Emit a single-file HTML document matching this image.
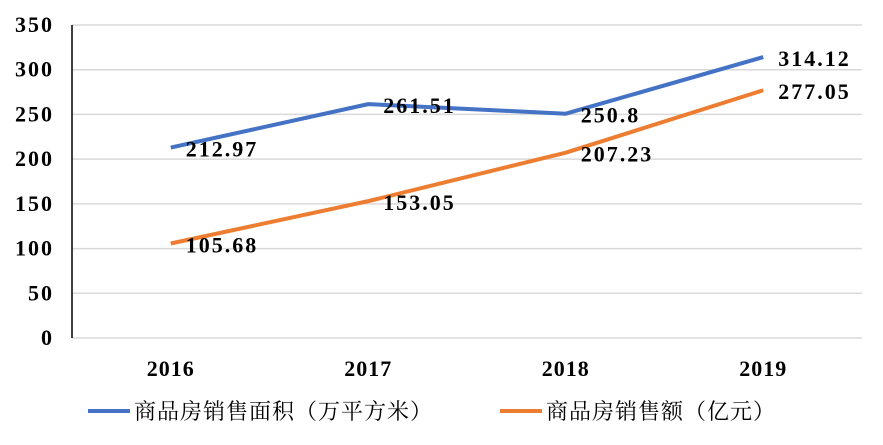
<!DOCTYPE html>
<html><head><meta charset="utf-8"><style>
body{margin:0;background:#fff;}
svg{display:block;font-family:"Liberation Serif","Noto Serif CJK SC",serif;}
</style></head><body>
<svg id="chart" width="883" height="445"></svg>
<script>
const categories=["2016","2017","2018","2019"];
const areaValues=[212.97,261.51,250.8,314.12];
const salesValues=[105.68,153.05,207.23,277.05];
const yTicks=[0,50,100,150,200,250,300,350];
const seriesNames=["商品房销售面积（万平方米）","商品房销售额（亿元）"];
const NS="http://www.w3.org/2000/svg";
const svg=document.getElementById('chart');
const L=72,R=862,T=25,B=338;
const y=v=>B-(v/350)*(B-T);
const x=i=>L+(R-L)/categories.length*(i+0.5);
function mk(t,a,p){const e=document.createElementNS(NS,t);for(const k in a)e.setAttribute(k,a[k]);(p||svg).appendChild(e);return e;}
yTicks.forEach(v=>{
 const g=mk('line',{x1:L,x2:R,y1:y(v),y2:y(v),stroke:'#d9d9d9','stroke-width':1.5});
 
 
 const t=mk('text',{x:54,y:y(v)+7,'text-anchor':'end','font-size':22,'font-weight':'bold','letter-spacing':2,fill:'#000'});
 t.textContent=v;
 
 
});
const ax=mk('line',{x1:L,x2:L,y1:T,y2:B,stroke:'#000','stroke-width':1.5});


categories.forEach((c,i)=>{
 const t=mk('text',{x:x(i),y:376,'text-anchor':'middle','font-size':22,'font-weight':'bold','letter-spacing':1,fill:'#000'});
 t.textContent=c;
 
 
});
function series(vals,color,name){
 const p=mk('polyline',{points:vals.map((v,i)=>x(i)+','+y(v)).join(' '),fill:'none',stroke:color,'stroke-width':4,'stroke-linejoin':'round'});
 
 
 vals.forEach((v,i)=>{
  const t=mk('text',{x:x(i)+15,y:y(v)+9,'font-size':22,'font-weight':'bold','letter-spacing':2,fill:'#000'});
  t.textContent=v;
  
  
 });
}
series(areaValues,'#4472c4','area');
series(salesValues,'#ed7d31','sales');
[[88,'#4472c4',0],[500,'#ed7d31',1]].forEach(([lx,c,k])=>{
 const l=mk('line',{x1:lx,x2:lx+42,y1:411,y2:411,stroke:c,'stroke-width':4});
 
 
 const t=mk('text',{x:lx+46,y:419,'font-size':22,'letter-spacing':1,fill:'#000'});
 t.textContent=seriesNames[k];
 
 
});
</script>
</body></html>
